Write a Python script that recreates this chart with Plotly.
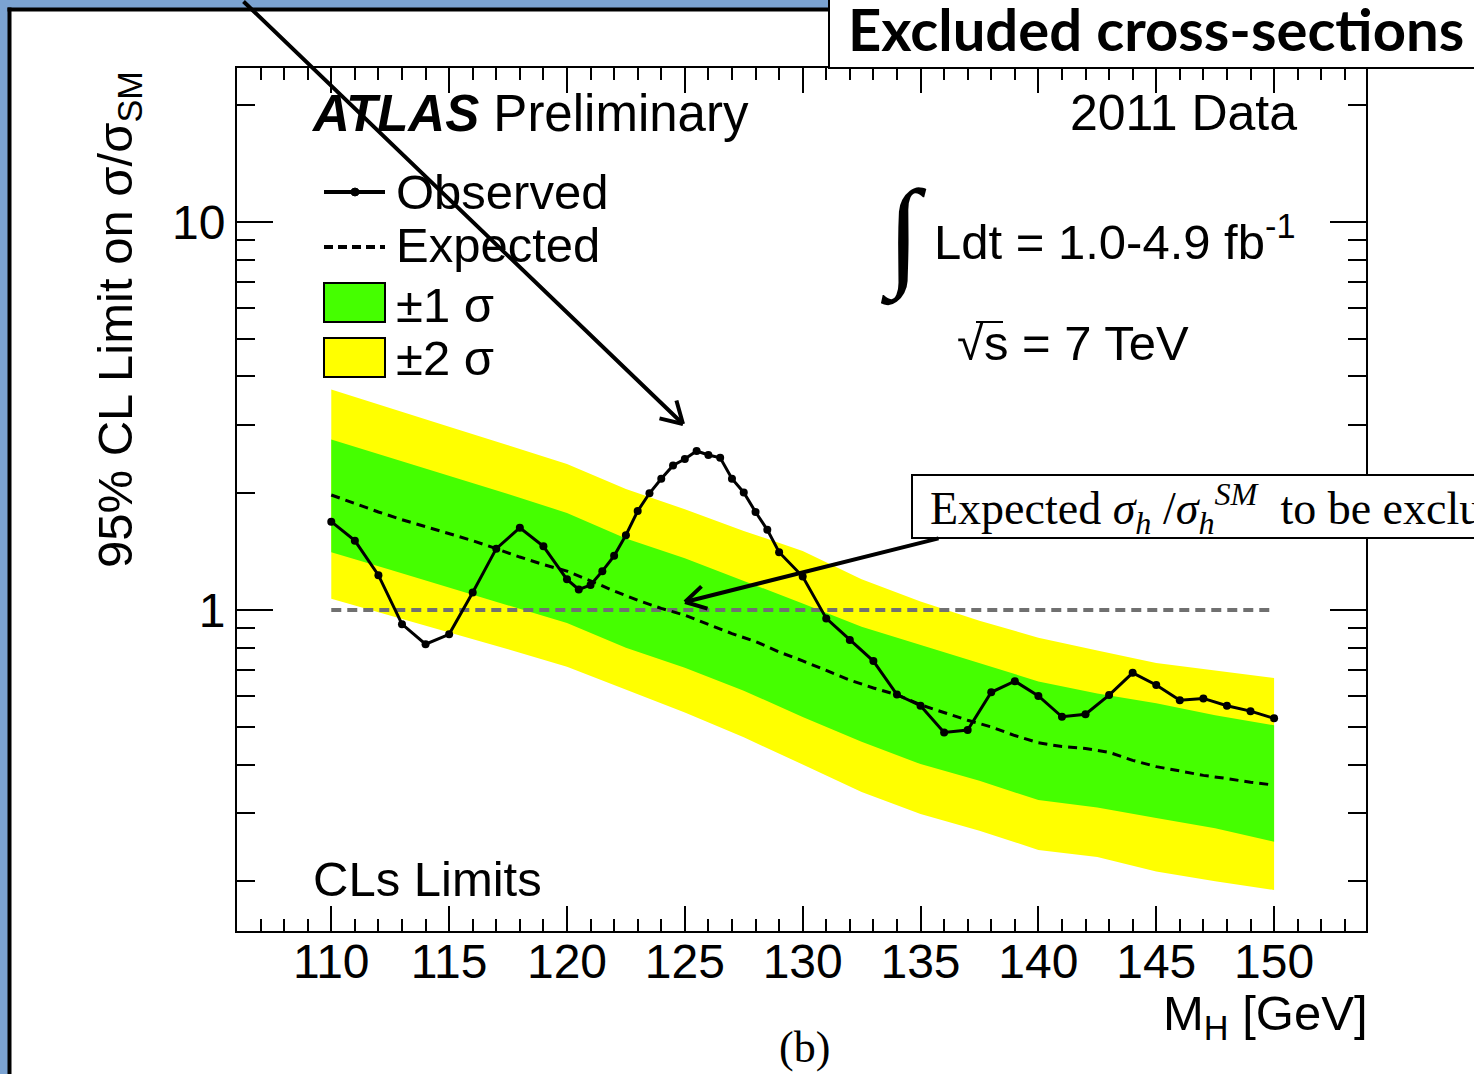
import plotly.graph_objects as go

# ---------------- data ----------------
# Observed 95% CL limit on sigma/sigma_SM vs Higgs mass [GeV]
obs_mass = [110, 111, 112, 113, 114, 115, 116, 117, 118, 119, 120,
            120.5, 121, 121.5, 122, 122.5, 123, 123.5, 124, 124.5, 125,
            125.5, 126, 126.5, 127, 127.5, 128, 128.5, 129, 130,
            131, 132, 133, 134, 135, 136, 137, 138, 139, 140,
            141, 142, 143, 144, 145, 146, 147, 148, 149, 150]
obs_limit = [1.69, 1.51, 1.23, 0.92, 0.817, 0.866, 1.11, 1.44, 1.63, 1.46, 1.20,
             1.13, 1.16, 1.26, 1.38, 1.56, 1.80, 2.00, 2.18, 2.36, 2.45,
             2.57, 2.51, 2.47, 2.18, 2.01, 1.79, 1.61, 1.41, 1.22,
             0.952, 0.837, 0.739, 0.606, 0.567, 0.484, 0.491, 0.614, 0.656, 0.601,
             0.531, 0.539, 0.604, 0.689, 0.641, 0.586, 0.592, 0.567, 0.549, 0.526]

# Expected limit (median)
exp_mass = list(range(110, 151))
exp_limit = [1.98, 1.88, 1.79, 1.71, 1.64, 1.58, 1.51, 1.44, 1.37, 1.31,
             1.26, 1.19, 1.12, 1.06, 1.01, 0.97, 0.92, 0.87, 0.83, 0.78,
             0.74, 0.70, 0.66, 0.63, 0.605, 0.57, 0.545, 0.52, 0.50, 0.475,
             0.455, 0.445, 0.44, 0.43, 0.41, 0.395, 0.385, 0.375, 0.368, 0.36,
             0.354]

# Expected +-1 sigma / +-2 sigma bands
band_mass = [110, 112.5, 115, 117.5, 120, 122.5, 125, 127.5, 130,
             132.5, 135, 137.5, 140, 142.5, 145, 147.5, 150]
plus2 = [3.70, 3.32, 2.97, 2.66, 2.38, 2.05, 1.82, 1.60, 1.42,
         1.20, 1.053, 0.939, 0.849, 0.787, 0.731, 0.699, 0.668]
plus1 = [2.75, 2.47, 2.21, 1.99, 1.78, 1.53, 1.36, 1.19, 1.04,
         0.906, 0.812, 0.729, 0.655, 0.61, 0.575, 0.536, 0.505]
minus1 = [1.41, 1.27, 1.145, 1.03, 0.926, 0.80, 0.71, 0.62, 0.53,
          0.458, 0.401, 0.363, 0.324, 0.31, 0.291, 0.274, 0.253]
minus2 = [1.07, 0.969, 0.877, 0.793, 0.715, 0.625, 0.545, 0.47, 0.40,
          0.34, 0.298, 0.27, 0.241, 0.231, 0.212, 0.20, 0.19]

sm_mass = [110, 150]
sm_ratio = [1, 1]

x_ticks_minor = list(range(107, 154))
y_minor = [0.2, 0.3, 0.4, 0.5, 0.6, 0.7, 0.8, 0.9, 2, 3, 4, 5, 6, 7, 8, 9, 20]

# ---------------- geometry of the canvas ----------------
W, H = 1474, 1074
L, R, TOP, BOT = 237, 1366, 68, 931
PW, PH = R - L, BOT - TOP


def PX(x):
    return (x - L) / PW


def PY(y):
    return (BOT - y) / PH


SANS = "Liberation Sans, Arial, Helvetica, sans-serif"
SERIF = "Liberation Serif, Times New Roman, serif"
YELLOW = "#ffff00"
GREEN = "#45ff00"

fig = go.Figure()

fig.add_trace(go.Scatter(
    x=band_mass + band_mass[::-1], y=plus2 + minus2[::-1],
    fill="toself", fillcolor=YELLOW, line=dict(width=0), mode="lines",
    hoverinfo="skip", showlegend=False))
fig.add_trace(go.Scatter(
    x=band_mass + band_mass[::-1], y=plus1 + minus1[::-1],
    fill="toself", fillcolor=GREEN, line=dict(width=0), mode="lines",
    hoverinfo="skip", showlegend=False))
fig.add_trace(go.Scatter(
    x=sm_mass, y=sm_ratio, mode="lines",
    line=dict(color="#707070", width=4, dash="10px,6px"), showlegend=False))
fig.add_trace(go.Scatter(
    x=exp_mass, y=exp_limit, mode="lines",
    line=dict(color="black", width=3, dash="9px,6px"), showlegend=False))
fig.add_trace(go.Scatter(
    x=obs_mass, y=obs_limit, mode="lines+markers",
    line=dict(color="black", width=3),
    marker=dict(color="black", size=8), showlegend=False))

shapes = []
# slide frame
shapes.append(dict(type="rect", xref="paper", yref="paper",
                   x0=PX(-5), x1=PX(W + 5), y0=PY(-5), y1=PY(8),
                   fillcolor="#7ba3d2", line=dict(width=0), layer="above"))
shapes.append(dict(type="rect", xref="paper", yref="paper",
                   x0=PX(-5), x1=PX(8), y0=PY(-5), y1=PY(H + 5),
                   fillcolor="#7ba3d2", line=dict(width=0), layer="above"))
shapes.append(dict(type="line", xref="paper", yref="paper",
                   x0=PX(9.5), x1=PX(9.5), y0=PY(7.5), y1=PY(H + 5),
                   line=dict(color="black", width=4)))
shapes.append(dict(type="line", xref="paper", yref="paper",
                   x0=PX(7.5), x1=PX(830), y0=PY(9.5), y1=PY(9.5),
                   line=dict(color="black", width=4)))
# title box
shapes.append(dict(type="rect", xref="paper", yref="paper",
                   x0=PX(829), x1=PX(W + 20), y0=PY(-10), y1=PY(68),
                   fillcolor="white", line=dict(color="black", width=2)))
# callout box
shapes.append(dict(type="rect", xref="paper", yref="paper",
                   x0=PX(912), x1=PX(W + 20), y0=PY(475), y1=PY(538),
                   fillcolor="white", line=dict(color="black", width=2)))
# legend symbols
shapes.append(dict(type="line", xref="paper", yref="paper",
                   x0=PX(324), x1=PX(385), y0=PY(192), y1=PY(192),
                   line=dict(color="black", width=4)))
shapes.append(dict(type="circle", xref="paper", yref="paper",
                   x0=PX(351), x1=PX(359), y0=PY(188), y1=PY(196),
                   fillcolor="black", line=dict(color="black", width=1)))
shapes.append(dict(type="line", xref="paper", yref="paper",
                   x0=PX(324), x1=PX(385), y0=PY(247), y1=PY(247),
                   line=dict(color="black", width=4, dash="9px,5px")))
shapes.append(dict(type="rect", xref="paper", yref="paper",
                   x0=PX(324), x1=PX(385), y0=PY(283), y1=PY(322),
                   fillcolor=GREEN, line=dict(color="black", width=2)))
shapes.append(dict(type="rect", xref="paper", yref="paper",
                   x0=PX(324), x1=PX(385), y0=PY(338), y1=PY(377),
                   fillcolor=YELLOW, line=dict(color="black", width=2)))
# bar over the s of sqrt(s)
shapes.append(dict(type="line", xref="paper", yref="paper",
                   x0=PX(976), x1=PX(1003), y0=PY(322), y1=PY(322),
                   line=dict(color="black", width=2)))

annotations = []


def text(t, x, y, size, xanchor="left", family=SANS, color="black", **kw):
    annotations.append(dict(text=t, x=PX(x), y=PY(y), xref="paper", yref="paper",
                            xanchor=xanchor, yanchor="middle", showarrow=False,
                            font=dict(family=family, size=size, color=color), **kw))


def line(x0, y0, x1, y1, width=4):
    # drawn as an annotation arrow without head so it sits above the text
    annotations.append(dict(text="", x=PX(x1), y=PY(y1), xref="paper", yref="paper",
                            ax=x0 - x1, ay=y0 - y1, axref="pixel", ayref="pixel",
                            showarrow=True, arrowhead=0, arrowwidth=width,
                            arrowcolor="black", standoff=0, startstandoff=0))


text("<b><i>ATLAS</i></b> Preliminary", 309, 113, 51)
text("2011 Data", 1299, 113, 50, xanchor="right")
text("Observed", 394, 192, 49)
text("Expected", 394, 245, 49)
text("±1 σ", 394, 305, 49)
text("±2 σ", 394, 358, 49)
text("∫", 903, 236, 120, xanchor="center", family=SERIF)
text("Ldt = 1.0-4.9 fb<sup>-1</sup>", 932, 238, 49)
text("√s = 7 TeV", 955, 343, 49)
text("CLs Limits", 311, 879, 49)
text("95% CL Limit on σ/σ<sub>SM</sub>", 118, 320, 49, xanchor="center", textangle=-90)
text("M<sub>H</sub> [GeV]", 1370, 1016, 49, xanchor="right")
text("(b)", 804, 1047, 44, xanchor="center", family=SERIF)
text("<b>Excluded cross-sections</b>", 846, 28, 58, family="Lato, Open Sans, sans-serif")
text("Expected <i>σ<sub>h</sub></i> /<i>σ<sub>h</sub><sup>SM</sup></i>  to be excluded",
     928, 508, 46, family=SERIF)

# arrow to the observed excess
line(242, -10, 683, 424)
line(658, 418, 683, 424)
line(676, 399, 683, 424)
# arrow from the callout box to the expected curve
line(940, 538, 685, 602)
line(709, 609, 685, 602)
line(703, 585, 685, 602)

fig.update_layout(
    width=W, height=H,
    margin=dict(l=L, r=W - R, t=TOP, b=H - BOT, pad=0),
    paper_bgcolor="white", plot_bgcolor="white",
    shapes=shapes, annotations=annotations,
    showlegend=False,
    font=dict(family=SANS, color="black"),
    xaxis=dict(range=[106.0, 153.9], tick0=110, dtick=5,
               ticks="inside", ticklen=25, tickwidth=2, tickcolor="black",
               ticklabelstandoff=-13,
               minor=dict(tickmode="array", tickvals=x_ticks_minor, ticks="inside",
                          ticklen=12, tickwidth=2, tickcolor="black", showgrid=False),
               showline=True, linecolor="black", linewidth=2, mirror="ticks",
               showgrid=False, zeroline=False,
               tickfont=dict(family=SANS, size=48)),
    yaxis=dict(type="log", range=[-0.827, 1.397],
               tickmode="array", tickvals=[1, 10], ticktext=["1", "10"],
               ticks="inside", ticklen=36, tickwidth=2, tickcolor="black",
               minor=dict(tickmode="array", tickvals=y_minor, ticks="inside",
                          ticklen=18, tickwidth=2, tickcolor="black", showgrid=False),
               showline=True, linecolor="black", linewidth=2, mirror="ticks",
               showgrid=False, zeroline=False,
               tickfont=dict(family=SANS, size=48)),
)

fig.write_html("out.html")
